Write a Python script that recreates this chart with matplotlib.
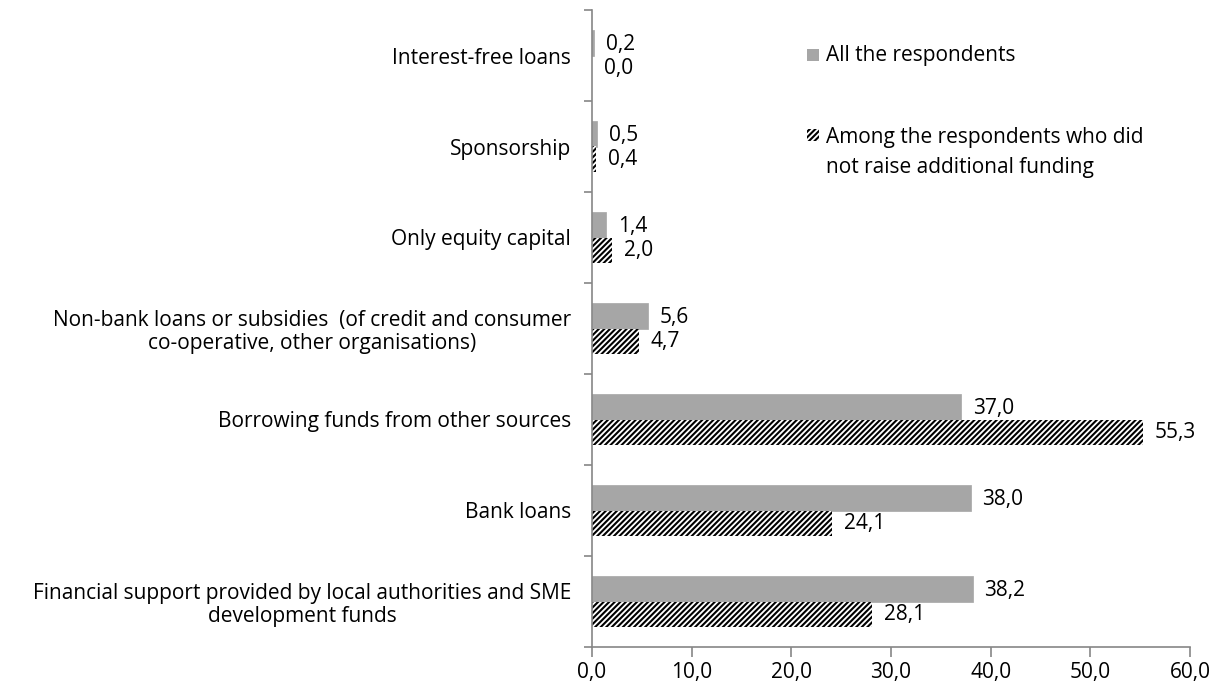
import matplotlib
matplotlib.use("Agg")
import matplotlib.pyplot as plt
from matplotlib.patches import Rectangle
import numpy as np

plt.rcParams['font.family'] = ['Open Sans', 'DejaVu Sans']
plt.rcParams['hatch.linewidth'] = 1.5

categories = [
    "Financial support provided by local authorities and SME\ndevelopment funds",
    "Bank loans",
    "Borrowing funds from other sources",
    "Non-bank loans or subsidies  (of credit and consumer\nco-operative, other organisations)",
    "Only equity capital",
    "Sponsorship",
    "Interest-free loans",
]
all_resp = [38.2, 38.0, 37.0, 5.6, 1.4, 0.5, 0.2]
no_funding = [28.1, 24.1, 55.3, 4.7, 2.0, 0.4, 0.0]
xticks = [0, 10, 20, 30, 40, 50, 60]
series_names = ["All the respondents",
                "Among the respondents who did\nnot raise additional funding"]

GRAY = "#A6A6A6"
AXC = "#868686"
FS = 15

fig = plt.figure(figsize=(12.09, 6.87), dpi=100)
ax = fig.add_axes([592/1209, 1-647/687, (1190-592)/1209, (647-10)/687])

y = np.arange(len(categories))
h = 0.283
ax.barh(y + h/2, all_resp, height=h, color=GRAY, edgecolor=GRAY, linewidth=0.5)
ax.barh(y - h/2, no_funding, height=h, color="white", edgecolor="black",
        hatch="//////", linewidth=0)

for yi, v in zip(y, all_resp):
    ax.annotate(f"{v:.1f}".replace(".", ","), (v, yi + h/2), xytext=(8.5, -1),
                textcoords="offset points", va="center", ha="left", fontsize=FS)
for yi, v in zip(y, no_funding):
    ax.annotate(f"{v:.1f}".replace(".", ","), (v, yi - h/2), xytext=(8.5, 0),
                textcoords="offset points", va="center", ha="left", fontsize=FS)

ax.set_xlim(0, 60)
ax.set_ylim(-0.5, len(categories) - 0.5)
ax.set_xticks(xticks)
ax.set_xticklabels([f"{t:.1f}".replace(".", ",") for t in xticks], fontsize=FS)
ax.set_yticks(y)
ax.set_yticklabels(categories, fontsize=FS, multialignment="center", linespacing=1.15)
ax.set_yticks(np.arange(len(categories) + 1) - 0.5, minor=True)
ax.tick_params(axis="y", which="major", length=0, pad=15)
ax.tick_params(axis="y", which="minor", length=6, color=AXC, width=1.2)
ax.tick_params(axis="x", length=7, color=AXC, width=1.2, pad=4)
for s in ["top", "right"]:
    ax.spines[s].set_visible(False)
for s in ["left", "bottom"]:
    ax.spines[s].set_color(AXC)
    ax.spines[s].set_linewidth(1.2)

# legend
fig.patches.append(Rectangle((807/1209, 1-61/687), 12/1209, 12/687,
                             transform=fig.transFigure, facecolor=GRAY,
                             edgecolor="none"))
fig.patches.append(Rectangle((807/1209, 1-141/687), 12/1209, 12/687,
                             transform=fig.transFigure, facecolor="white",
                             edgecolor="black", hatch="//////", linewidth=0))
fig.text(826/1209, 1-127/687, series_names[0 + 1], fontsize=FS, va="top", ha="left",
         linespacing=1.55)
fig.text(826/1209, 1-55/687, series_names[0], fontsize=FS, va="center", ha="left")

fig.savefig("out.png", dpi=100)
